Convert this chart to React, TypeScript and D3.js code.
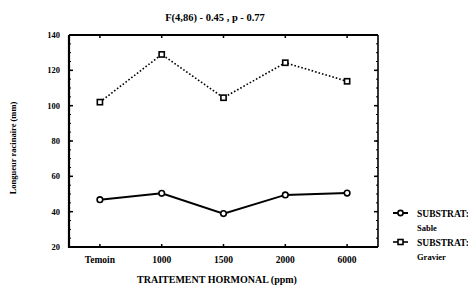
import { useEffect, useRef } from 'react';
import * as d3 from 'd3';

const categories = ['Temoin', '1000', '1500', '2000', '6000'];
const sable = [46.8, 50.4, 38.9, 49.5, 50.5];
const gravier = [102, 129, 104.5, 124.3, 113.8];
const yTicks = [20, 40, 60, 80, 100, 120, 140];

export default function App() {
  const ref = useRef<SVGSVGElement>(null);

  useEffect(() => {
    const svg = d3.select(ref.current);
    svg.selectAll('*').remove();

    const left = 69, right = 378, top = 35, bottom = 247;
    const font = 'Liberation Serif, Times New Roman, serif';

    const x = d3.scalePoint<string>().domain(categories).range([left, right]).padding(0.5);
    const y = d3.scaleLinear().domain([20, 140]).range([bottom, top]);

    // title
    svg.append('text')
      .attr('x', 215).attr('y', 21)
      .attr('text-anchor', 'middle')
      .attr('font-family', font).attr('font-weight', 'bold').attr('font-size', 10.5)
      .text('F(4,86) - 0.45 , p - 0.77');

    // minor ticks on left and right
    const minor = d3.range(20, 141, 5);
    svg.append('g').selectAll('line').data(minor).enter().append('line')
      .attr('x1', left).attr('x2', left + 2)
      .attr('y1', d => y(d)).attr('y2', d => y(d))
      .attr('stroke', '#000').attr('stroke-width', 1);
    svg.append('g').selectAll('line').data(minor).enter().append('line')
      .attr('x1', right).attr('x2', right - 2)
      .attr('y1', d => y(d)).attr('y2', d => y(d))
      .attr('stroke', '#000').attr('stroke-width', 1);

    // major ticks inside
    svg.append('g').selectAll('line').data(yTicks).enter().append('line')
      .attr('x1', left).attr('x2', left + 4)
      .attr('y1', d => y(d)).attr('y2', d => y(d))
      .attr('stroke', '#000').attr('stroke-width', 1.5);
    svg.append('g').selectAll('line').data(yTicks).enter().append('line')
      .attr('x1', right).attr('x2', right - 4)
      .attr('y1', d => y(d)).attr('y2', d => y(d))
      .attr('stroke', '#000').attr('stroke-width', 1.5);
    svg.append('g').selectAll('line').data(categories).enter().append('line')
      .attr('x1', d => x(d)!).attr('x2', d => x(d)!)
      .attr('y1', top).attr('y2', top + 3)
      .attr('stroke', '#000').attr('stroke-width', 1.5);
    svg.append('g').selectAll('line').data(categories).enter().append('line')
      .attr('x1', d => x(d)!).attr('x2', d => x(d)!)
      .attr('y1', bottom).attr('y2', bottom - 3)
      .attr('stroke', '#000').attr('stroke-width', 1.5);

    // frame
    svg.append('path')
      .attr('d', `M${left},${top}H${right}`)
      .attr('stroke', '#000').attr('stroke-width', 2);
    svg.append('path')
      .attr('d', `M${left},${top}V${bottom}H${right}`)
      .attr('fill', 'none').attr('stroke', '#000').attr('stroke-width', 2.2);
    svg.append('path')
      .attr('d', `M${right},${top}V${bottom}`)
      .attr('stroke', '#000').attr('stroke-width', 1.6);

    // y tick labels
    svg.append('g').selectAll('text').data(yTicks).enter().append('text')
      .attr('x', left - 9).attr('y', d => y(d) + 3)
      .attr('text-anchor', 'end')
      .attr('font-family', font).attr('font-weight', 'bold').attr('font-size', 8.5)
      .text(d => d);

    // x tick labels
    svg.append('g').selectAll('text').data(categories).enter().append('text')
      .attr('x', d => x(d)!).attr('y', 263)
      .attr('text-anchor', 'middle')
      .attr('font-family', font).attr('font-weight', 'bold').attr('font-size', 9.5)
      .text(d => d);

    // axis titles
    svg.append('text')
      .attr('x', 217).attr('y', 283)
      .attr('text-anchor', 'middle')
      .attr('font-family', font).attr('font-weight', 'bold').attr('font-size', 10)
      .text('TRAITEMENT HORMONAL (ppm)');
    svg.append('text')
      .attr('transform', `translate(16,148) rotate(-90)`)
      .attr('text-anchor', 'middle')
      .attr('font-family', font).attr('font-weight', 'bold').attr('font-size', 8.5)
      .text('Longueur racinaire (mm)');

    const line = d3.line<number>().x((_, i) => x(categories[i])!).y(d => y(d));

    svg.append('path').datum(sable)
      .attr('d', line).attr('fill', 'none')
      .attr('stroke', '#000').attr('stroke-width', 2);
    svg.append('path').datum(gravier)
      .attr('d', line).attr('fill', 'none')
      .attr('stroke', '#000').attr('stroke-width', 1.6)
      .attr('stroke-dasharray', '1.6,2');

    svg.append('g').selectAll('circle').data(sable).enter().append('circle')
      .attr('cx', (_, i) => x(categories[i])!).attr('cy', d => y(d))
      .attr('r', 2.8).attr('fill', '#fff').attr('stroke', '#000').attr('stroke-width', 1.6);
    svg.append('g').selectAll('rect').data(gravier).enter().append('rect')
      .attr('x', (_, i) => x(categories[i])! - 2.6).attr('y', d => y(d) - 2.6)
      .attr('width', 5.2).attr('height', 5.2)
      .attr('fill', '#fff').attr('stroke', '#000').attr('stroke-width', 1.6);

    // legend
    const lg = svg.append('g').attr('font-family', font).attr('font-weight', 'bold').attr('font-size', 9.5);
    lg.append('line').attr('x1', 393).attr('x2', 408).attr('y1', 213).attr('y2', 213)
      .attr('stroke', '#000').attr('stroke-width', 2);
    lg.append('circle').attr('cx', 400.5).attr('cy', 213).attr('r', 2.6)
      .attr('fill', '#fff').attr('stroke', '#000').attr('stroke-width', 1.6);
    lg.append('text').attr('x', 417).attr('y', 216.5).text('SUBSTRAT:');
    lg.append('text').attr('x', 417).attr('y', 231).attr('font-size', 8.5).text('Sable');
    lg.append('line').attr('x1', 393).attr('x2', 408).attr('y1', 242).attr('y2', 242)
      .attr('stroke', '#000').attr('stroke-width', 1.6);
    lg.append('rect').attr('x', 398).attr('y', 239.5).attr('width', 5).attr('height', 5)
      .attr('fill', '#fff').attr('stroke', '#000').attr('stroke-width', 1.6);
    lg.append('text').attr('x', 417).attr('y', 245.5).text('SUBSTRAT:');
    lg.append('text').attr('x', 417).attr('y', 260).attr('font-size', 8.5).text('Gravier');
  }, []);

  return (
    <svg ref={ref} width={468} height={286}
      style={{ position: 'absolute', left: 0, top: 0, background: '#fff' }} />
  );
}
